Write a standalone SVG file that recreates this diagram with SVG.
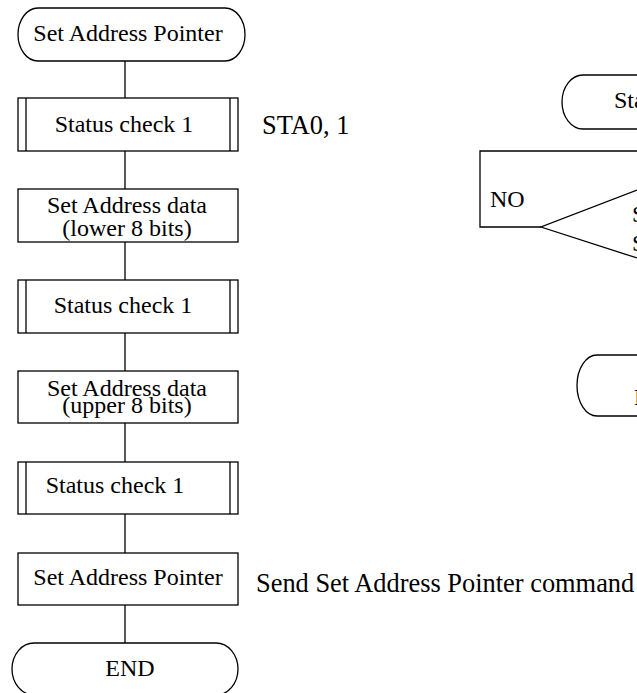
<svg xmlns="http://www.w3.org/2000/svg" width="637" height="693" viewBox="0 0 637 693">
  <style>
    .shape { fill: #ffffff; stroke: #000000; stroke-width: 1.3; }
    .line { fill: none; stroke: #000000; stroke-width: 1.3; }
    text { font-family: "Liberation Serif", "Times New Roman", serif; font-size: 24px; fill: #000000; }
    .mid { text-anchor: middle; }
    .note { font-size: 26.4px; }
  </style>
  <rect width="637" height="693" fill="#ffffff"/>

  <!-- vertical flow line of the main chart -->
  <g id="connectors">
    <line class="line" x1="125" y1="61" x2="125" y2="98"/>
    <line class="line" x1="125" y1="151" x2="125" y2="189"/>
    <line class="line" x1="125" y1="242" x2="125" y2="280"/>
    <line class="line" x1="125" y1="333" x2="125" y2="371"/>
    <line class="line" x1="125" y1="423" x2="125" y2="462"/>
    <line class="line" x1="125" y1="514" x2="125" y2="553"/>
    <line class="line" x1="125" y1="605" x2="125" y2="643"/>
    <!-- NO loop of the status check routine -->
    <polyline class="line" points="541,227 480,227 480,151 637,151"/>
  </g>

  <g id="start">
    <rect class="shape" x="18" y="8" width="227" height="53" rx="20" ry="26.5"/>
    <text x="128" y="41" class="mid">Set Address Pointer</text>
  </g>

  <g id="status1">
    <rect class="shape" x="18" y="98" width="220" height="53"/>
    <line class="line" x1="26" y1="98" x2="26" y2="151"/>
    <line class="line" x1="230" y1="98" x2="230" y2="151"/>
    <text x="124" y="132" class="mid">Status check 1</text>
  </g>
  <text x="262" y="134" class="note">STA0, 1</text>

  <g id="lower">
    <rect class="shape" x="18" y="189" width="220" height="53"/>
    <text x="127" y="213" class="mid">Set Address data</text>
    <text x="127" y="236" class="mid">(lower 8 bits)</text>
  </g>

  <g id="status2">
    <rect class="shape" x="18" y="280" width="220" height="53"/>
    <line class="line" x1="26" y1="280" x2="26" y2="333"/>
    <line class="line" x1="230" y1="280" x2="230" y2="333"/>
    <text x="123" y="313" class="mid">Status check 1</text>
  </g>

  <g id="upper">
    <rect class="shape" x="18" y="371" width="220" height="52"/>
    <text x="127" y="396" class="mid">Set Address data</text>
    <text x="127" y="413" class="mid">(upper 8 bits)</text>
  </g>

  <g id="status3">
    <rect class="shape" x="18" y="462" width="220" height="52"/>
    <line class="line" x1="26" y1="462" x2="26" y2="514"/>
    <line class="line" x1="230" y1="462" x2="230" y2="514"/>
    <text x="115" y="493" class="mid">Status check 1</text>
  </g>

  <g id="command">
    <rect class="shape" x="18" y="553" width="220" height="52"/>
    <text x="128" y="585" class="mid">Set Address Pointer</text>
  </g>
  <text x="256" y="592" class="note">Send Set Address Pointer command</text>

  <g id="end">
    <rect class="shape" x="12" y="643" width="226" height="52" rx="22" ry="26"/>
    <text x="130" y="676" class="mid">END</text>
  </g>

  <!-- status check routine -->
  <g id="sc-start">
    <rect class="shape" x="562" y="75" width="120" height="54" rx="21" ry="27"/>
    <text x="614" y="108">Sta</text>
  </g>

  <g id="sc-test">
    <polyline class="line" points="637,190 541,227 637,258"/>
    <text x="632" y="222">S</text>
    <text x="632" y="251">S</text>
  </g>
  <text x="490" y="207">NO</text>

  <g id="sc-end">
    <rect class="shape" x="577" y="355" width="100" height="61" rx="20" ry="30.5"/>
    <text x="634" y="405">E</text>
  </g>
</svg>
